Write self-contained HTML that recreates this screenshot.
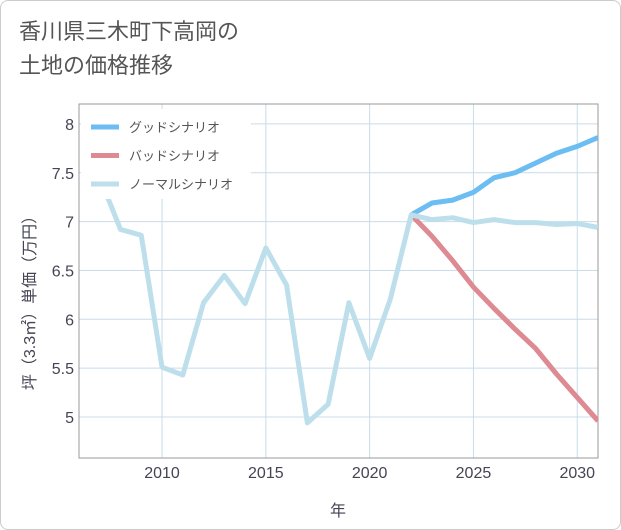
<!DOCTYPE html>
<html><head><meta charset="utf-8"><style>
body{margin:0;background:#fff;}
#wrap{position:relative;width:619px;height:528px;border:1px solid #ccc;border-radius:8px;background:#fff;overflow:hidden;font-family:"Liberation Sans","Noto Sans CJK JP",sans-serif;}
#title{position:absolute;left:18px;top:14px;font-size:22px;line-height:34px;color:#555;}
svg{position:absolute;left:0;top:0}
text{font-family:"Liberation Sans","Noto Sans CJK JP",sans-serif}
</style></head><body>
<div id="wrap">
<div id="title">香川県三木町下高岡の<br>土地の価格推移</div>
<svg id="c" width="621" height="530"></svg>
</div>
<script>
const years=[2007,2008,2009,2010,2011,2012,2013,2014,2015,2016,2017,2018,2019,2020,2021,2022];
const normalHist=[7.45,6.92,6.86,5.51,5.43,6.17,6.45,6.16,6.73,6.35,4.94,5.13,6.17,5.6,6.21,7.07];
const futureYears=[2022,2023,2024,2025,2026,2027,2028,2029,2030,2031];
const goodVals=[7.07,7.19,7.22,7.3,7.45,7.5,7.6,7.7,7.77,7.86];
const badVals=[7.07,6.85,6.6,6.33,6.11,5.9,5.7,5.44,5.2,4.96];
const normalVals=[7.07,7.02,7.04,6.99,7.02,6.99,6.99,6.97,6.98,6.94];
const xTicks=[2010,2015,2020,2025,2030];
const yTicks=[5,5.5,6,6.5,7,7.5,8];
const yTickLabels=["5","5.5","6","6.5","7","7.5","8"];
const legendLabels=["グッドシナリオ","バッドシナリオ","ノーマルシナリオ"];
const L=78,R=597,T=103,B=457;
const x=v=>L+(v-2006)*(R-L)/25;
const y=v=>416-(v-5)*97.7;
const svg=document.getElementById('c');const NS='http://www.w3.org/2000/svg';
function mk(t,a,p){const e=document.createElementNS(NS,t);for(const k in a)e.setAttribute(k,a[k]);(p||svg).appendChild(e);return e;}
const defs=mk('clipPath',{id:'cp'});mk('rect',{x:L,y:T,width:R-L,height:B-T},defs);
xTicks.forEach(v=>{const g=mk('line',{x1:x(v),x2:x(v),y1:T,y2:B,stroke:'#c8dcea','stroke-width':1});

const t=mk('text',{x:x(v),y:477,'text-anchor':'middle','font-size':16,fill:'#445'});t.textContent=v;
});
yTicks.forEach((v,i)=>{const g=mk('line',{x1:L,x2:R,y1:y(v),y2:y(v),stroke:'#c8dcea','stroke-width':1});

const t=mk('text',{x:73,y:y(v)+6,'text-anchor':'end','font-size':16,fill:'#445'});t.textContent=yTickLabels[i];
});
const fr=mk('rect',{x:L,y:T,width:R-L,height:B-T,fill:'none',stroke:'#999','stroke-width':1});

function line(xs,vs,col,name){const p=mk('polyline',{points:xs.map((v,i)=>x(v)+','+y(vs[i])).join(' '),fill:'none',stroke:col,'stroke-width':5,'stroke-linejoin':'round','clip-path':'url(#cp)'});
}
line(futureYears,goodVals,'#6bbdf2','good-scenario-line');
line(futureYears,badVals,'#de8a92','bad-scenario-line');
line(years.concat(futureYears.slice(1)),normalHist.concat(normalVals.slice(1)),'#bddfeb','normal-scenario-line');
const lb=mk('rect',{x:80,y:108,width:170,height:90,fill:'#fff'});

const cols=['#6bbdf2','#de8a92','#bddfeb'];
legendLabels.forEach((s,i)=>{const yy=126+i*28.5;
const l=mk('line',{x1:90,x2:118,y1:yy,y2:yy,stroke:cols[i],'stroke-width':5});

const t=mk('text',{x:128,y:yy+5,'font-size':13,fill:'#555'});t.textContent=s;
});
const xt=mk('text',{x:337,y:515,'text-anchor':'middle','font-size':16,fill:'#445'});xt.textContent='年';

const yt=mk('text',{x:0,y:0,'text-anchor':'middle','font-size':16,fill:'#445',transform:'translate(34,298) rotate(-90)'});yt.textContent='坪（3.3㎡）単価（万円）';

</script>
</body></html>
